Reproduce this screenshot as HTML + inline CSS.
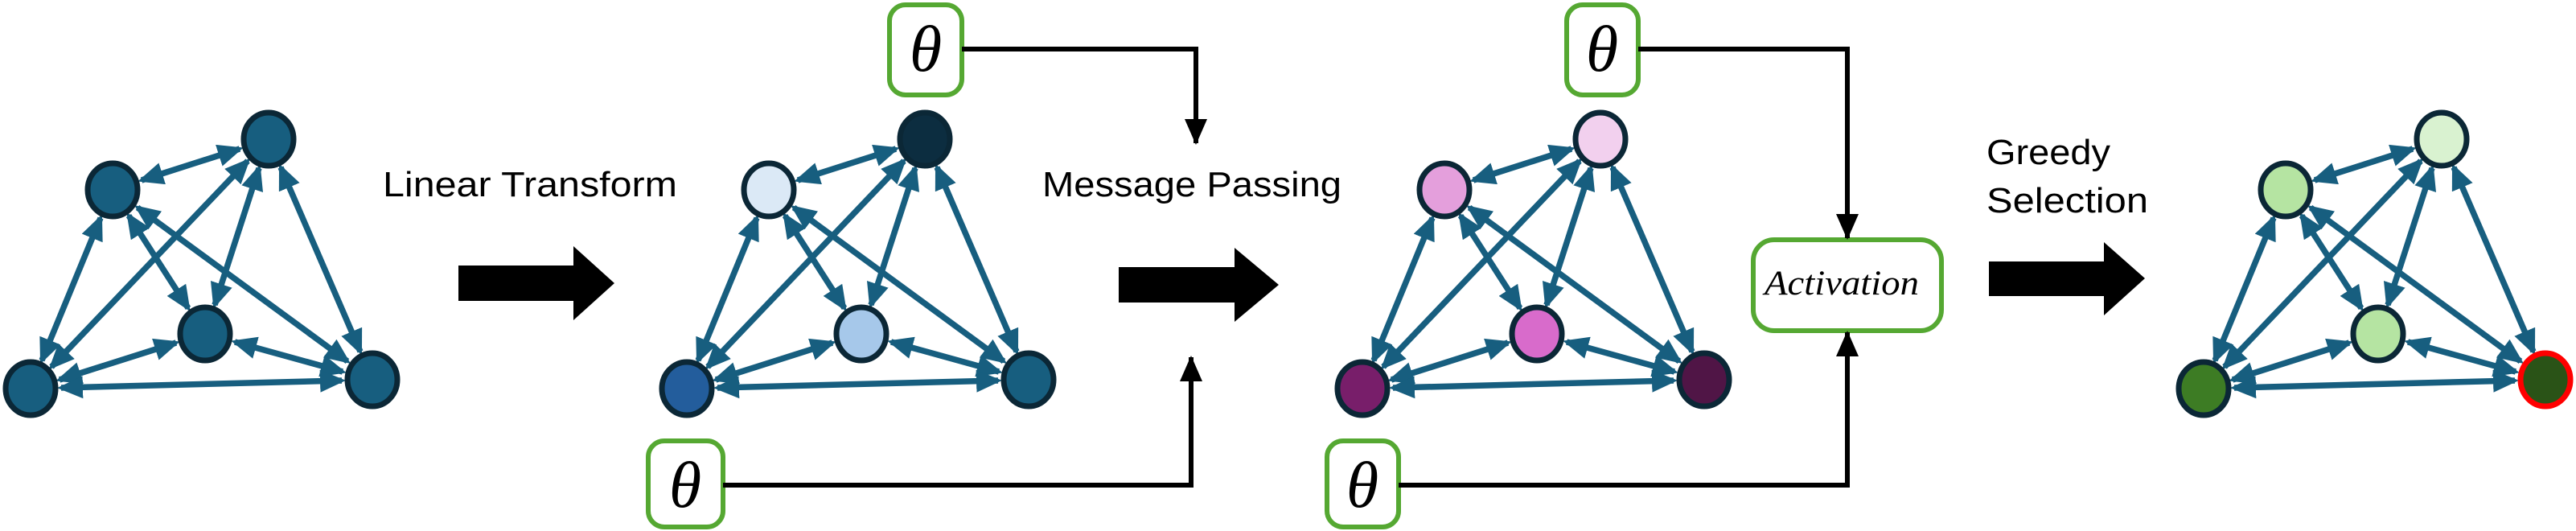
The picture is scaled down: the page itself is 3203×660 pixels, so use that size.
<!DOCTYPE html>
<html><head><meta charset="utf-8"><style>html,body{margin:0;padding:0;background:#fff}svg{display:block}</style></head>
<body>
<svg width="3203" height="660" viewBox="0 0 3203 660" xmlns="http://www.w3.org/2000/svg">
<defs>
<marker id="ah" markerUnits="userSpaceOnUse" markerWidth="36" markerHeight="30" refX="27" refY="14" orient="auto-start-reverse">
<path d="M0,0 L32,14 L0,28 z" fill="#175e7f"/>
</marker>
<marker id="bh" markerUnits="userSpaceOnUse" markerWidth="34" markerHeight="34" refX="30" refY="14" orient="auto">
<path d="M0,0 L32,14 L0,28 z" fill="#000"/>
</marker>
<g id="edges" stroke="#175e7f" stroke-width="7.5" fill="none" marker-start="url(#ah)" marker-end="url(#ah)">
<line x1="298" y1="185" x2="176" y2="224"/>
<line x1="308" y1="200" x2="64" y2="456"/>
<line x1="322" y1="209" x2="267" y2="379"/>
<line x1="349" y1="208" x2="448" y2="437"/>
<line x1="125" y1="271" x2="52" y2="448"/>
<line x1="160" y1="268" x2="234" y2="383"/>
<line x1="171" y1="258" x2="432" y2="449"/>
<line x1="219" y1="426" x2="74" y2="472"/>
<line x1="292" y1="425" x2="426" y2="462"/>
<line x1="76" y1="482" x2="425" y2="473"/>
</g>
</defs>

<g>
<use href="#edges"/>
<g stroke="#0b2736" stroke-width="7">
<ellipse cx="334" cy="173" rx="31" ry="33" fill="#175e7f"/>
<ellipse cx="140" cy="236" rx="31" ry="33" fill="#175e7f"/>
<ellipse cx="255" cy="415" rx="31" ry="33" fill="#175e7f"/>
<ellipse cx="38" cy="483" rx="31" ry="33" fill="#175e7f"/>
<ellipse cx="463" cy="472" rx="31" ry="33" fill="#175e7f"/>
</g>
</g>

<g transform="translate(816,0)">
<use href="#edges"/>
<g stroke="#0b2736" stroke-width="7">
<ellipse cx="334" cy="173" rx="31" ry="33" fill="#0c2d40"/>
<ellipse cx="140" cy="236" rx="31" ry="33" fill="#dbe9f6"/>
<ellipse cx="255" cy="415" rx="31" ry="33" fill="#a6c8ea"/>
<ellipse cx="38" cy="483" rx="31" ry="33" fill="#235d9c"/>
<ellipse cx="463" cy="472" rx="31" ry="33" fill="#175e7f"/>
</g>
</g>

<g transform="translate(1656,0)">
<use href="#edges"/>
<g stroke="#0b2736" stroke-width="7">
<ellipse cx="334" cy="173" rx="31" ry="33" fill="#f2d0ee"/>
<ellipse cx="140" cy="236" rx="31" ry="33" fill="#e49fdc"/>
<ellipse cx="255" cy="415" rx="31" ry="33" fill="#d86bcb"/>
<ellipse cx="38" cy="483" rx="31" ry="33" fill="#781e6a"/>
<ellipse cx="463" cy="472" rx="31" ry="33" fill="#501546"/>
</g>
</g>

<g transform="translate(2702,0)">
<use href="#edges"/>
<g stroke="#0b2736" stroke-width="7">
<ellipse cx="334" cy="173" rx="31" ry="33" fill="#d9f2d0"/>
<ellipse cx="140" cy="236" rx="31" ry="33" fill="#b5e4a2"/>
<ellipse cx="255" cy="415" rx="31" ry="33" fill="#b5e4a2"/>
<ellipse cx="38" cy="483" rx="31" ry="33" fill="#3d7c24"/>
<ellipse cx="463" cy="472" rx="31" ry="33" fill="#2a5317" stroke="#ff0000"/>
</g>
</g>

<polygon points="570,330 713,330 713,306 764,352 713,398 713,374 570,374" fill="#000"/>
<polygon points="1391,332 1535,332 1535,308 1590,354 1535,400 1535,376 1391,376" fill="#000"/>
<polygon points="2473,325 2616,325 2616,301 2667,346 2616,392 2616,368 2473,368" fill="#000"/>

<g font-family="Liberation Sans, DejaVu Sans, sans-serif" font-size="44" fill="#000">
<text x="476" y="244" textLength="366" lengthAdjust="spacingAndGlyphs">Linear Transform</text>
<text x="1296" y="244" textLength="372" lengthAdjust="spacingAndGlyphs">Message Passing</text>
<text x="2470" y="204" textLength="154" lengthAdjust="spacingAndGlyphs">Greedy</text>
<text x="2470" y="264" textLength="201" lengthAdjust="spacingAndGlyphs">Selection</text>
</g>

<g fill="#fff" stroke="#55a832" stroke-width="6">
<rect x="1106" y="6" width="90" height="112" rx="20"/>
<rect x="806" y="548" width="93" height="107" rx="20"/>
<rect x="1948" y="6" width="89" height="112" rx="20"/>
<rect x="1650" y="548" width="89" height="107" rx="20"/>
<rect x="2180" y="298" width="234" height="113" rx="26"/>
</g>
<g font-family="Liberation Serif, DejaVu Serif, serif" font-style="italic" font-size="82" fill="#000" text-anchor="middle">
<text x="1151" y="88">θ</text>
<text x="852" y="630">θ</text>
<text x="1992" y="88">θ</text>
<text x="1694" y="630">θ</text>
</g>
<text x="2290" y="366" font-family="Liberation Serif, DejaVu Serif, serif" font-style="italic" font-size="43" text-anchor="middle" textLength="192" lengthAdjust="spacingAndGlyphs">Activation</text>

<g stroke="#000" stroke-width="6" fill="none">
<polyline points="1196,61 1487,61 1487,178" marker-end="url(#bh)"/>
<polyline points="899,603 1481,603 1481,444" marker-end="url(#bh)"/>
<polyline points="2037,61 2297,61 2297,296" marker-end="url(#bh)"/>
<polyline points="1739,603 2297,603 2297,413" marker-end="url(#bh)"/>
</g>
</svg>
</body></html>
